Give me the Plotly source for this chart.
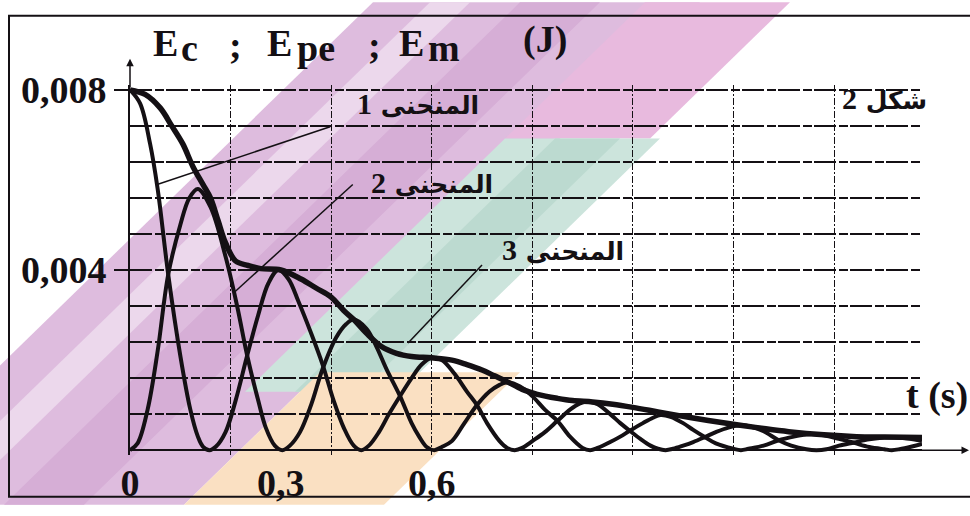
import plotly.graph_objects as go

# ---- data: energies (J) read against time (s) ----
# curve 1 : elastic potential energy Epe
t_epe = [0, 0.02, 0.04, 0.055, 0.076, 0.10, 0.12, 0.135, 0.145, 0.158,
         0.171, 0.19, 0.21, 0.233, 0.255, 0.275, 0.295, 0.315, 0.335, 0.36, 0.383, 0.405, 0.425, 0.445, 0.46,
         0.475, 0.495, 0.515, 0.537, 0.56, 0.58, 0.60, 0.62, 0.645, 0.67, 0.69, 0.71, 0.735, 0.75, 0.765,
         0.78, 0.80, 0.825, 0.85, 0.875, 0.895, 0.91, 0.93, 0.955, 0.975, 0.994, 1.015, 1.035, 1.05, 1.065,
         1.08, 1.10, 1.12, 1.143, 1.165, 1.19, 1.215, 1.235, 1.26, 1.29, 1.315, 1.345, 1.365,
         1.385, 1.41, 1.44, 1.47, 1.50, 1.52, 1.545, 1.575]
e_epe = [0.0080, 0.0077, 0.0068, 0.0058, 0.0039, 0.0021, 0.0009, 0.0003, 0.00008, 0,
         0.00008, 0.0004, 0.0011, 0.0021, 0.0030, 0.0037, 0.0040, 0.0038, 0.0033, 0.0026, 0.0019, 0.0011, 0.0005, 0.0001, 0,
         0.0001, 0.0004, 0.0008, 0.0012, 0.0016, 0.0019, 0.00205, 0.0020, 0.0017, 0.0013, 0.0010, 0.0006, 0.0002, 0.00005, 0,
         0.00005, 0.0002, 0.0004, 0.00065, 0.0009, 0.00104, 0.00108, 0.00102, 0.0008, 0.0006, 0.00043, 0.00025, 0.0001, 0.00003, 0,
         0.00003, 0.0001, 0.00018, 0.00029, 0.0004, 0.0005, 0.00055, 0.00052, 0.00042, 0.00022, 0.0001, 0.00002, 0,
         0.00002, 0.0001, 0.00017, 0.00024, 0.00028, 0.00028, 0.00026, 0.00021]

# curve 2 : kinetic energy Ec
t_ec = [0, 0.015, 0.035, 0.055, 0.076, 0.10, 0.118, 0.135, 0.16, 0.19, 0.213, 0.233, 0.255, 0.27, 0.288, 0.303,
        0.318, 0.338, 0.36, 0.383, 0.41, 0.43, 0.445, 0.47, 0.49, 0.51, 0.537, 0.56, 0.575, 0.59, 0.605,
        0.62, 0.64, 0.665, 0.69, 0.715, 0.735, 0.748, 0.775, 0.80, 0.825, 0.85, 0.875, 0.90, 0.915,
        0.93, 0.955, 0.975, 0.994, 1.02, 1.04, 1.055, 1.075, 1.10, 1.12, 1.143, 1.165, 1.20, 1.215,
        1.23, 1.26, 1.29, 1.32, 1.34, 1.355, 1.38, 1.41, 1.44, 1.47, 1.50, 1.515, 1.53, 1.555, 1.575]
e_ec = [0, 0.00015, 0.0009, 0.0022, 0.0039, 0.0050, 0.0056, 0.0058, 0.0054, 0.0043, 0.0032, 0.0021, 0.0011, 0.0005, 0.0001, 0,
        0.0001, 0.0004, 0.0010, 0.0018, 0.0025, 0.0028, 0.0029, 0.0027, 0.0023, 0.0018, 0.0012, 0.0006, 0.0003, 0.00007, 0,
        0.00007, 0.0002, 0.0006, 0.0010, 0.0013, 0.00145, 0.0015, 0.00142, 0.0012, 0.0009, 0.00065, 0.0003, 0.00005, 0,
        0.00005, 0.00018, 0.0003, 0.00043, 0.0006, 0.00072, 0.00078, 0.00074, 0.0006, 0.00045, 0.00029, 0.00015, 0.00003, 0,
        0.00003, 0.0001, 0.00022, 0.0003, 0.00034, 0.00036, 0.00033, 0.00025, 0.00016, 0.00007, 0.00002, 0, 0.00002, 0.00008, 0.00014]

# curve 3 : mechanical energy Em
t_em = [0, 0.03, 0.06, 0.083, 0.105, 0.125, 0.145, 0.16, 0.175, 0.19, 0.21, 0.235, 0.26, 0.30,
        0.34, 0.37, 0.40, 0.425, 0.445, 0.47, 0.50, 0.53, 0.56, 0.60, 0.64, 0.67, 0.70, 0.725, 0.75,
        0.78, 0.81, 0.85, 0.88, 0.92, 0.96, 1.0, 1.05, 1.10, 1.15, 1.21, 1.26, 1.31, 1.38, 1.445, 1.50, 1.575]
e_em = [0.0080, 0.0079, 0.0076, 0.0072, 0.0068, 0.0063, 0.0059, 0.0056, 0.0051, 0.0046, 0.0042, 0.0041, 0.00403, 0.0040,
        0.0038, 0.0036, 0.0034, 0.0031, 0.0029, 0.0026, 0.0023, 0.00215, 0.00208, 0.00205, 0.0020, 0.0019, 0.00178, 0.00165, 0.00152,
        0.00135, 0.00124, 0.00115, 0.0011, 0.00107, 0.00102, 0.00095, 0.00085, 0.00075, 0.00066, 0.00056, 0.00048, 0.00041, 0.00034, 0.0003, 0.00029, 0.00028]

# grid and tick labels
grid_t = [0, 0.2, 0.4, 0.6, 0.8, 1.0, 1.2, 1.4]
grid_e = [0, 0.0008, 0.0016, 0.0024, 0.0032, 0.004, 0.0048, 0.0056, 0.0064, 0.0072, 0.008]
t_ticks = [0, 0.3, 0.6]
t_ticktext = ["0", "0,3", "0,6"]
e_ticks = [0.004, 0.008]
e_ticktext = ["0,004", "0,008"]

# curve labels ("المنحنى n") and their pointer lines: (label end) -> (point on the curve)
curve_numbers = ["1", "2", "3"]
pointer_from = [(0.398, 0.00718), (0.443, 0.0059), (0.70, 0.00411)]
pointer_to = [(0.054, 0.0059), (0.207, 0.0035), (0.553, 0.00238)]

# ---- layout geometry ----
W, H = 970, 516
ML, MR, MT, MB = 130, 48, 85, 51
PW, PH = W - ML - MR, H - MT - MB
X_RANGE = [0, 1.575]
Y_RANGE = [-0.000108, 0.008108]


def px(x):
    return (x - ML) / PW


def py(y):
    return (H - MB - y) / PH


SERIF = "Liberation Serif"
ARABIC = "DejaVu Sans"
INK = "#141014"

fig = go.Figure()
fig.add_trace(go.Scatter(x=t_epe, y=e_epe, mode="lines", name="Epe",
                         line=dict(color=INK, width=4, shape="spline", smoothing=1.0)))
fig.add_trace(go.Scatter(x=t_ec, y=e_ec, mode="lines", name="Ec",
                         line=dict(color=INK, width=4, shape="spline", smoothing=1.0)))
fig.add_trace(go.Scatter(x=t_em, y=e_em, mode="lines", name="Em", xaxis="x2", yaxis="y2",
                         line=dict(color=INK, width=5.5, shape="spline", smoothing=1.0)))


# ---- background watermark: diagonal pastel bands ----
def band(s0, s1, y0, y1, color):
    """strip between the diagonals x+y=s0 and x+y=s1 (pixels), cut to y0..y1"""
    pts = [(s0 - y0, y0), (s1 - y0, y0), (s1 - y1, y1), (s0 - y1, y1)]
    d = "M " + " L ".join(f"{px(a):.4f},{py(b):.4f}" for a, b in pts) + " Z"
    return dict(type="path", xref="paper", yref="paper", path=d, fillcolor=color,
                line=dict(width=0), layer="below")


shapes = [
    band(373, 700, 0, 516, "rgba(222,188,222,1)"),
    band(430, 470, 0, 516, "rgba(236,216,236,1)"),
    band(520, 600, 0, 516, "rgba(214,174,214,1)"),
    band(645, 790, 0, 140, "rgba(232,186,222,1)"),
    band(645, 800, 140, 400, "rgba(204,228,220,1)"),
    band(695, 760, 140, 400, "rgba(188,218,208,1)"),
    band(700, 900, 380, 516, "rgba(250,224,194,1)"),
]

# outer frame
shapes.append(dict(type="rect", xref="paper", yref="paper", x0=px(9), x1=px(975), y0=py(508), y1=py(14),
                   line=dict(color=INK, width=2), fillcolor="rgba(0,0,0,0)", layer="above"))

# pointer lines
for (x0, y0), (x1, y1) in zip(pointer_from, pointer_to):
    shapes.append(dict(type="line", xref="x", yref="y", x0=x0, y0=y0, x1=x1, y1=y1,
                       line=dict(color=INK, width=1.5)))


def text_at(x, y, s, family, size, anchor="left"):
    return dict(x=px(x), y=py(y), xref="paper", yref="paper", xanchor=anchor, yanchor="middle",
                showarrow=False, text=s, font=dict(family=family, size=size, color=INK))


annotations = [
    # axis arrows
    dict(x=px(130), y=py(58), xref="paper", yref="paper", ax=0, ay=30, showarrow=True,
         arrowhead=2, arrowsize=1, arrowwidth=1.5, arrowcolor=INK, text=""),
    dict(x=px(969), y=py(460), xref="paper", yref="paper", ax=-50, ay=0, showarrow=True,
         arrowhead=2, arrowsize=1, arrowwidth=1.5, arrowcolor=INK, text=""),
    # horizontal axis title
    text_at(904, 404, "<b>t (s)</b>", SERIF, 38),
]

# vertical axis title: Ec ; Epe ; Em (J), lower-case indices sit slightly low
title_parts = [("E", 151, 42), ("c", 179, 47), (";", 227, 44), ("E", 265, 42), ("pe", 295, 47),
               (";", 366, 44), ("E", 397, 42), ("m", 426, 47), ("(J)", 521, 38)]
for s, x, y in title_parts:
    annotations.append(text_at(x, y, f"<b>{s}</b>", SERIF, 38))

# curve labels, number on the left of the Arabic word
label_pos = [(355, 104), (369, 185), (500, 254)]
for n, (x, y) in zip(curve_numbers, label_pos):
    annotations.append(text_at(
        x, y, f"<b><span style='font-family:{SERIF};font-size:30px'>{n}</span> المنحنى</b>", ARABIC, 25))
annotations.append(text_at(
    840, 99, f"<b><span style='font-family:{SERIF};font-size:30px'>2</span> شكل</b>", ARABIC, 25))

tick_font = dict(family=SERIF, size=38, color=INK)
fig.update_layout(
    width=W, height=H,
    margin=dict(l=ML, r=MR, t=MT, b=MB),
    paper_bgcolor="white", plot_bgcolor="rgba(0,0,0,0)",
    showlegend=False,
    shapes=shapes, annotations=annotations,
    xaxis=dict(range=X_RANGE, tickmode="array", tickvals=grid_t, showticklabels=False, ticks="",
               showgrid=True, gridcolor=INK, gridwidth=1.3, griddash="7px,2px,2px,2px",
               zeroline=False, showline=False),
    yaxis=dict(range=Y_RANGE, tickmode="array", tickvals=grid_e, showticklabels=False, ticks="",
               showgrid=True, gridcolor=INK, gridwidth=1.8, griddash="22px,3px,9px,2px",
               zeroline=True, zerolinecolor=INK, zerolinewidth=2.2,
               showline=True, linecolor=INK, linewidth=1.6),
    xaxis2=dict(range=X_RANGE, overlaying="x", anchor="y2", side="bottom", matches="x",
                tickmode="array", tickvals=t_ticks, ticktext=[f"<b>{s}</b>" for s in t_ticktext],
                ticks="", showgrid=False, zeroline=False, showline=False,
                tickfont=tick_font, ticklabelstandoff=2),
    yaxis2=dict(range=Y_RANGE, overlaying="y", anchor="x2", side="left",
                tickmode="array", tickvals=e_ticks, ticktext=[f"<b>{s}</b>" for s in e_ticktext],
                ticks="outside", ticklen=15, tickwidth=2, tickcolor=INK,
                showgrid=False, zeroline=False, showline=False,
                tickfont=tick_font, ticklabelstandoff=0),
)

fig.write_html("out.html")
